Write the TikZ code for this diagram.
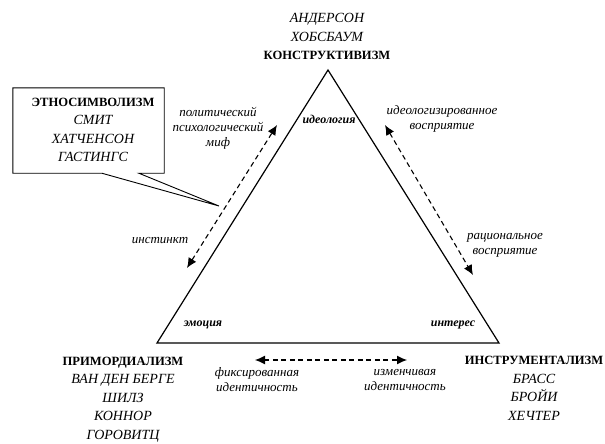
\documentclass[tikz,border=0pt]{standalone}
\usepackage{fontspec}
\setmainfont{Liberation Serif}
\usetikzlibrary{
  calc
  , arrows.meta
}

\begin{document}
\begin{tikzpicture}[x=1pt,y=-1pt]
      \tikzstyle{names}=[align=center, inner sep=0pt, font=\fontsize{14}{18.5}\selectfont\itshape]
      \tikzstyle{label text}=[align=center, inner sep=0pt, font=\fontsize{13}{15}\selectfont\itshape]
      \tikzstyle{corner text}=[inner sep=0pt, font=\fontsize{12}{12}\selectfont\bfseries\itshape]
      \tikzstyle{link}=[dashed, dash pattern=on 5pt off 3.5pt, line width=1.1pt, {Latex[length=10pt,width=9pt]}-{Latex[length=10pt,width=9pt]}]
      \newcommand{\school}[1]{{\fontsize{12.6}{18.5}\selectfont\bfseries\upshape #1}}

      \useasboundingbox (0,0) rectangle (605,444);

      % triangle
      \coordinate (ideology) at (328,70);
      \coordinate (emotion) at (157,343);
      \coordinate (interest) at (499,343);
      \draw [line width=1.2pt, line join=miter] (ideology) -- (interest) -- (emotion) -- cycle;

      \node [corner text] (ideologyL) at (329,119) {идеология};
      \node [corner text] (emotionL) at (203,325) {эмоция};
      \node [corner text] (interestL) at (453,325) {интерес};

      % schools
      \node [names] (constr) at (327,36.5) {АНДЕРСОН\\ХОБСБАУМ\\\school{КОНСТРУКТИВИЗМ}};
      \node [names] (prim) at (123,399.5) {\school{ПРИМОРДИАЛИЗМ}\\ВАН ДЕН БЕРГЕ\\ШИЛЗ\\КОННОР\\ГОРОВИТЦ};
      \node [names] (instr) at (534,388.5) {\school{ИНСТРУМЕНТАЛИЗМ}\\БРАСС\\БРОЙИ\\ХЕЧТЕР};

      % callout
      \node [minimum width=151pt, minimum height=85pt, inner sep=0pt] (ethnobox) at (88.5,130.5) {};
      \coordinate (tip) at (219,206);
      \draw [line width=0.9pt, line join=miter] (ethnobox.south west) -- (ethnobox.north west) -- (ethnobox.north east) -- (ethnobox.south east)
        -- ($(ethnobox.south west)+(126,0)$) -- (tip) -- ($(ethnobox.south west)+(89,0)$) -- cycle;
      \node [names] (ethno) at (93,130) {\school{ЭТНОСИМВОЛИЗМ}\\СМИТ\\ХАТЧЕНСОН\\ГАСТИНГС};

      % links
      \coordinate (instinct) at (187,268);
      \coordinate (myth) at (277,125);
      \draw [link] (instinct) -- (myth);
      \node [label text] (mythL) at (218,128) {политический\\психологический\\миф};
      \node [label text] (instinctL) at (160,241) {инстинкт};

      \coordinate (ideoperc) at (385,125);
      \coordinate (ratperc) at (473,275);
      \draw [link] (ideoperc) -- (ratperc);
      \node [label text] (ideopercL) at (442,119) {идеологизированное\\восприятие};
      \node [label text] (ratpercL) at (505,245) {рациональное\\восприятие};

      \coordinate (fixed) at (255,360);
      \coordinate (changing) at (407,360);
      \draw [link] (fixed) -- (changing);
      \node [label text] (fixedL) at (257,380) {фиксированная\\идентичность};
      \node [label text] (changingL) at (405,380) {изменчивая\\идентичность};

    \end{tikzpicture}
\end{document}
